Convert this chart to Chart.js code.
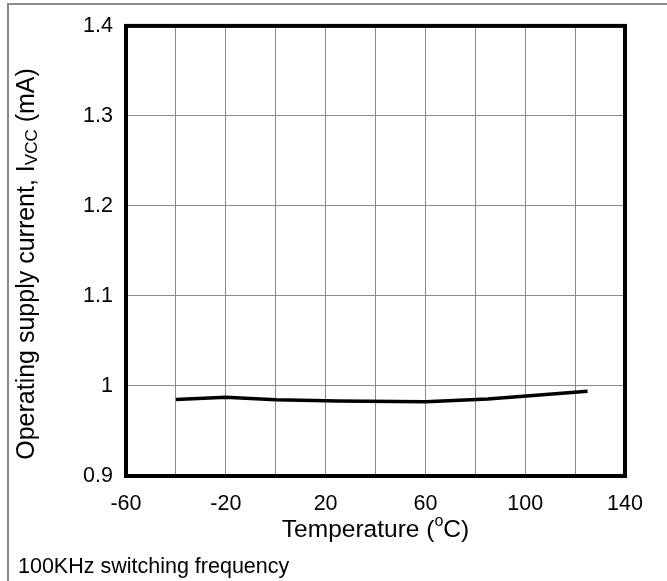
<!DOCTYPE html>
<html>
<head>
<meta charset="utf-8">
<script src="https://cdn.jsdelivr.net/npm/chart.js@4/dist/chart.umd.min.js"></script>
<style>
  html, body { margin: 0; padding: 0; background: #ffffff; }
  #wrap { width: 667px; height: 581px; position: relative; }
</style>
</head>
<body>
<div id="wrap"><canvas id="c" width="667" height="581"></canvas></div>
<script>
// Data
const temperatures = [-40, -20, 0, 25, 60, 85, 125];
const supplyCurrent = [0.985, 0.9876, 0.9846, 0.9833, 0.9824, 0.9856, 0.9942];
const xTickLabels = [-60, -20, 20, 60, 100, 140];
const yTickLabels = ['0.9', '1', '1.1', '1.2', '1.3', '1.4'];

const FONT = '"Liberation Sans", Arial, sans-serif';

const decorations = {
  id: 'decorations',
  beforeDraw(chart) {
    const ctx = chart.ctx;
    ctx.save();
    ctx.fillStyle = '#ffffff';
    ctx.fillRect(0, 0, chart.width, chart.height);
    // outer gray frame (top and left)
    ctx.strokeStyle = '#8c8c8c';
    ctx.lineWidth = 2;
    ctx.beginPath();
    ctx.moveTo(8, chart.height);
    ctx.lineTo(8, 4);
    ctx.lineTo(chart.width, 4);
    ctx.stroke();
    ctx.restore();
  },
  afterDraw(chart) {
    const ctx = chart.ctx;
    const a = chart.chartArea;
    ctx.save();
    // plot frame
    ctx.strokeStyle = '#000000';
    ctx.lineWidth = 4;
    ctx.strokeRect(a.left, a.top, a.right - a.left, a.bottom - a.top);

    ctx.fillStyle = '#000000';
    ctx.textBaseline = 'middle';

    // x axis title with superscript
    const big = '24.5px ' + FONT, small = '16px ' + FONT;
    const p1 = 'Temperature (', p2 = 'o', p3 = 'C)';
    ctx.font = big; const w1 = ctx.measureText(p1).width, w3 = ctx.measureText(p3).width;
    ctx.font = small; const w2 = ctx.measureText(p2).width;
    const total = w1 + w2 + w3;
    let x = (a.left + a.right) / 2 - total / 2;
    const yT = 530;
    ctx.textAlign = 'left';
    ctx.font = big; ctx.fillText(p1, x, yT); x += w1;
    ctx.font = small; ctx.fillText(p2, x, yT - 8); x += w2;
    ctx.font = big; ctx.fillText(p3, x, yT);

    // y axis title with subscript (rotated)
    const q1 = 'Operating supply current, I', q2 = 'VCC', q3 = ' (mA)';
    const yb = '25px ' + FONT, ys = '17px ' + FONT;
    ctx.font = yb; const v1 = ctx.measureText(q1).width, v3 = ctx.measureText(q3).width;
    ctx.font = ys; const v2 = ctx.measureText(q2).width;
    const vt = v1 + v2 + v3;
    ctx.save();
    ctx.translate(27, 264);
    ctx.rotate(-Math.PI / 2);
    let s = -vt / 2;
    ctx.font = yb; ctx.fillText(q1, s, 0); s += v1;
    ctx.font = ys; ctx.fillText(q2, s, 5); s += v2;
    ctx.font = yb; ctx.fillText(q3, s, 0);
    ctx.restore();

    // footnote
    ctx.font = '21.5px ' + FONT;
    ctx.textAlign = 'left';
    ctx.fillText('100KHz switching frequency', 18, 567);
    ctx.restore();
  }
};

const points = temperatures.map((t, i) => ({ x: t, y: supplyCurrent[i] }));

new Chart(document.getElementById('c'), {
  type: 'line',
  data: {
    datasets: [{
      data: points,
      borderColor: '#000000',
      borderWidth: 3.5,
      pointRadius: 0,
      tension: 0,
      fill: false
    }]
  },
  options: {
    responsive: false,
    animation: false,
    devicePixelRatio: 1,
    layout: { padding: { top: 24, right: 42, left: 0, bottom: 0 } },
    plugins: { legend: { display: false }, tooltip: { enabled: false } },
    scales: {
      x: {
        type: 'linear',
        min: -60, max: 140,
        afterFit(s) { s.height = 105; },
        border: { display: false },
        grid: { color: '#8a8a8a', lineWidth: 1, drawTicks: false },
        ticks: {
          stepSize: 20,
          autoSkip: false,
          maxRotation: 0,
          padding: 15,
          color: '#000000',
          font: { family: FONT, size: 21.5 },
          callback: (v) => xTickLabels.includes(v) ? String(v) : ''
        }
      },
      y: {
        type: 'linear',
        min: 0.9, max: 1.4,
        afterFit(s) { s.width = 126; },
        border: { display: false },
        grid: { color: '#8a8a8a', lineWidth: 1, drawTicks: false },
        ticks: {
          stepSize: 0.1,
          padding: 13,
          color: '#000000',
          font: { family: FONT, size: 21.5 },
          callback: (v) => {
            const lab = String(parseFloat(Number(v).toFixed(1)));
            return yTickLabels.includes(lab) ? lab : '';
          }
        }
      }
    }
  },
  plugins: [decorations]
});
</script>
</body>
</html>
